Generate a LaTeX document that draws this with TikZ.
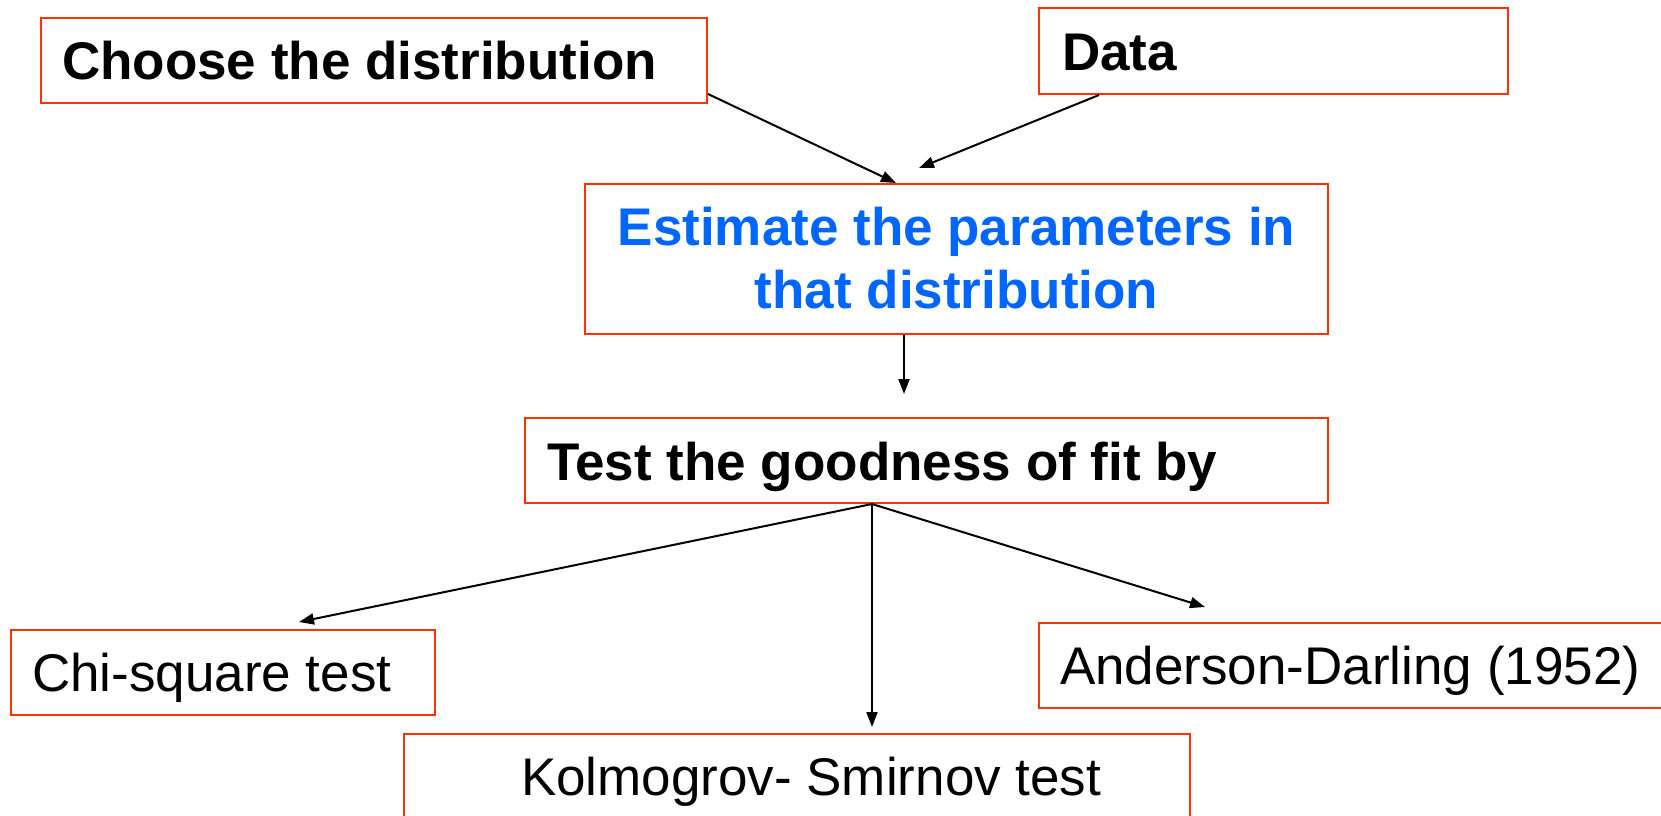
\documentclass[tikz,border=0pt]{standalone}
\usepackage{fontspec}
\setmainfont{Liberation Sans}
\usetikzlibrary{arrows.meta}
\definecolor{boxred}{RGB}{255,51,0}
\definecolor{estblue}{RGB}{0,102,255}
\begin{document}
\begin{tikzpicture}[x=1pt,y=-1pt,
  box/.style={draw=boxred, line width=2pt, fill=white, inner ysep=0pt,
    minimum height=85pt, text height=37pt, text depth=0pt,
    font=\fontsize{53}{63}\selectfont},
  bold/.style={font=\fontsize{53}{63}\selectfont\bfseries},
  conn/.style={line width=2pt, -{Triangle[length=15pt,width=11pt]}}]
\useasboundingbox (0,0) rectangle (1661,815);
\clip (0,0) rectangle (1661,815);
\node[box, bold, inner xsep=21pt, minimum width=666pt] (ch) at (374,60.5)
  {\makebox[624pt][l]{Choose the distribution}};
\node[box, bold, inner xsep=23pt, minimum width=469pt, minimum height=86pt, text height=38pt] (da) at (1273.5,51)
  {\makebox[423pt][l]{Data}};
\node[box, bold, text=estblue, inner xsep=0pt, minimum width=743pt, minimum height=150pt,
  text height=98pt, text depth=0pt] (est) at (956.5,259)
  {\parbox[b]{720pt}{\centering Estimate the parameters in\\that distribution}};
\node[box, bold, inner xsep=22pt, minimum width=803pt, text height=39pt] (ts) at (926.5,460.5)
  {\makebox[759pt][l]{Test the goodness of fit by}};
\node[box, inner xsep=21pt, minimum width=424pt] (chi) at (223,672.5)
  {\makebox[382pt][l]{Chi-square test}};
\node[box, inner xsep=117pt, minimum width=786pt] (ks) at (797,776.5)
  {\makebox[552pt][l]{Kolmogrov- Smirnov test}};
\node[box, inner xsep=21pt, minimum width=642pt] (ad) at (1360,665.5)
  {\makebox[600pt][l]{Anderson-Darling (1952)}};
\draw[conn] ([yshift=10pt]ch.south east) -- ([xshift=-60.5pt]est.north);
\draw[conn] ([xshift=-174.5pt]da.south) -- ([xshift=-37.5pt,yshift=15pt]est.north);
\draw[conn] ([xshift=-52.5pt]est.south) -- ([xshift=-22.5pt,yshift=23pt]ts.north);
\coordinate (fork) at ([xshift=-54.5pt]ts.south);
\draw[conn] (fork) -- ([xshift=76pt,yshift=7pt]chi.north);
\draw[conn] (fork) -- ([xshift=75pt,yshift=6pt]ks.north);
\draw[conn] (fork) -- ([xshift=-155pt,yshift=15pt]ad.north);
\end{tikzpicture}
\end{document}
